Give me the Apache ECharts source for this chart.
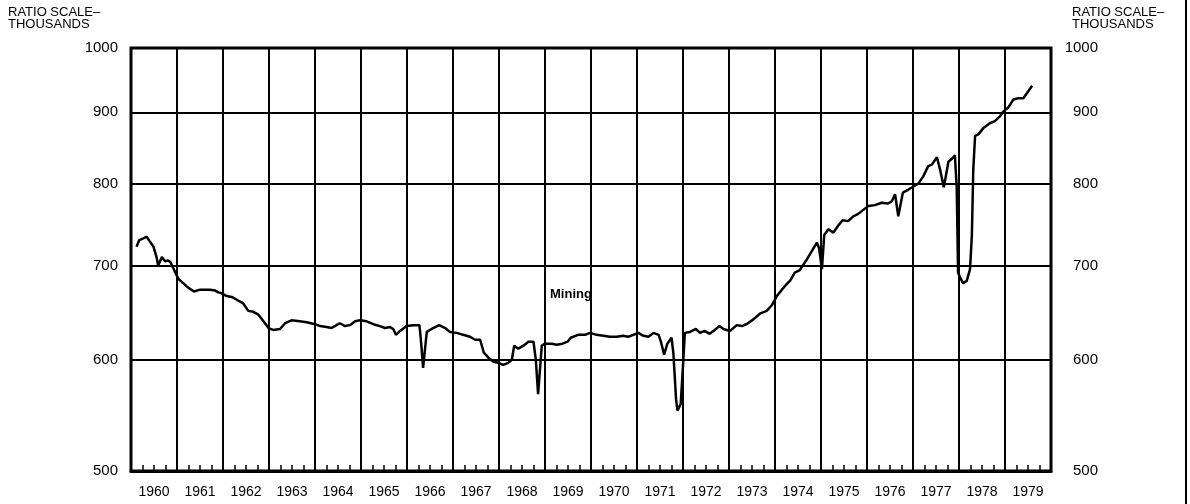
<!doctype html>
<html>
  <head>
    <meta charset="utf-8">
    <title>Mining</title>
    <script src="https://cdn.jsdelivr.net/npm/echarts@6/dist/echarts.min.js"></script>
    <style>
      html, body { margin: 0; padding: 0; background: #fff; }
      #main { width: 1190px; height: 504px; }
    </style>
  </head>
  <body>
    <div id="main"></div>
    <script>
      // years shown under the axis
      var years = ['1960','1961','1962','1963','1964','1965','1966','1967','1968','1969',
                   '1970','1971','1972','1973','1974','1975','1976','1977','1978','1979'];
      // ratio scale gridlines (thousands)
      var yTicks = [500, 600, 700, 800, 900, 1000];

      // mining employment (decimal year / thousands)
      var t = [
        1960.12,1960.18,1960.27,1960.34,1960.40,1960.49,1960.56,1960.59,1960.67,1960.74,1960.81,1960.86,1960.92,
        1961.03,1961.14,1961.25,1961.37,1961.50,1961.72,1961.83,1961.90,1961.97,
        1962.08,1962.19,1962.30,1962.44,1962.55,1962.66,1962.77,1962.88,1962.99,
        1963.09,1963.24,1963.35,1963.49,1963.67,1963.82,
        1964.00,1964.11,1964.25,1964.36,1964.43,1964.54,1964.65,1964.76,1964.87,1964.98,
        1965.12,1965.27,1965.41,1965.52,1965.63,1965.70,1965.76,1965.85,1965.99,
        1966.14,1966.27,1966.30,1966.35,1966.43,1966.57,1966.70,1966.83,1966.93,
        1967.08,1967.22,1967.37,1967.48,1967.59,1967.67,1967.77,1967.88,1967.99,
        1968.09,1968.20,1968.28,1968.33,1968.42,1968.53,1968.64,1968.75,1968.80,1968.85,1968.93,
        1969.00,1969.15,1969.25,1969.38,1969.49,1969.56,1969.72,1969.87,1969.98,
        1970.12,1970.27,1970.41,1970.56,1970.70,1970.81,1970.92,
        1971.03,1971.14,1971.25,1971.36,1971.47,1971.52,1971.59,1971.66,1971.75,1971.79,1971.85,1971.88,1971.95,
        1972.00,1972.04,1972.15,1972.28,1972.37,1972.47,1972.58,1972.69,1972.79,1972.88,
        1973.02,1973.17,1973.28,1973.38,1973.53,1973.67,1973.82,1973.93,
        1974.04,1974.15,1974.25,1974.33,1974.43,1974.54,1974.69,1974.80,1974.91,1974.96,
        1975.02,1975.07,1975.16,1975.27,1975.38,1975.47,1975.59,1975.70,1975.81,1975.92,
        1976.03,1976.17,1976.32,1976.46,1976.54,1976.61,1976.68,1976.78,1976.90,
        1977.01,1977.12,1977.22,1977.33,1977.41,1977.52,1977.59,1977.67,1977.77,1977.88,1977.91,1977.95,1977.98,
        1978.04,1978.09,1978.17,1978.24,1978.28,1978.31,1978.35,1978.42,1978.53,1978.67,1978.78,1978.89,1978.96,
        1979.07,1979.18,1979.29,1979.40,1979.51,1979.59
      ];
      var mining = [
        722,730,732,734,729,722,709,700,710,705,706,704,697,
        685,680,675,671,673,673,672,670,669,
        666,665,662,658,650,649,646,639,632,
        630,631,637,640,639,638,
        636,634,633,632,634,637,634,635,639,640,
        639,636,634,632,633,631,625,629,634,
        635,635,621,592,628,632,635,632,628,
        627,625,623,620,620,607,602,598,597,
        595,597,600,614,611,614,618,618,600,567,614,
        616,616,615,616,618,622,625,625,627,
        625,624,623,623,624,623,625,
        627,624,623,627,625,618,605,616,622,607,562,552,558,
        594,627,628,631,627,629,626,630,634,631,
        629,635,634,636,641,647,650,656,
        666,673,679,683,692,695,707,717,727,720,
        696,736,743,739,748,754,753,759,762,767,
        772,773,776,775,778,787,759,789,793,
        797,801,810,824,826,836,819,796,830,836,839,797,692,
        685,680,683,696,736,819,866,868,877,884,887,894,901,
        907,919,921,921,932,940
      ];

      var series = [];
      for (var i = 0; i < t.length; i++) {
        series.push([t[i], mining[i]]);
      }

      function plain(v) {
        return String(Math.round(v));
      }

      var font = 'Liberation Sans';
      var myChart = echarts.init(document.getElementById('main'));
      myChart.setOption({
        backgroundColor: '#fff',
        animation: false,
        grid: {
          left: 131, right: 139, top: 48, bottom: 33,
          show: true, borderColor: '#000', borderWidth: 3,
          outerBoundsMode: 'none'
        },
        xAxis: [{
          type: 'value', min: 1960, max: 1980, interval: 1,
          axisLine: { show: true, lineStyle: { color: '#000', width: 3 } },
          axisTick: { show: false, inside: true },
          minorTick: { show: true, splitNumber: 4, length: 6, lineStyle: { color: '#000', width: 1.5 } },
          splitLine: { show: true, lineStyle: { color: '#000', width: 2 } },
          axisLabel: { show: false }
        }, {
          type: 'category', data: years, position: 'bottom',
          axisLine: { show: false }, axisTick: { show: false },
          axisLabel: { margin: 14, color: '#000', fontFamily: font, fontSize: 14 },
          splitLine: { show: false }
        }],
        yAxis: [{
          type: 'log', logBase: 10, min: 500, max: 1000,
          axisLine: { show: false },
          axisTick: { show: false, customValues: yTicks },
          splitLine: { show: true, lineStyle: { color: '#000', width: 2 } },
          axisLabel: { customValues: yTicks, formatter: plain, margin: 13, color: '#000', fontFamily: font, fontSize: 15 }
        }, {
          type: 'log', logBase: 10, min: 500, max: 1000, position: 'right',
          axisLine: { show: false },
          axisTick: { show: false, customValues: yTicks },
          splitLine: { show: false },
          axisLabel: { customValues: yTicks, formatter: plain, margin: 47, align: 'right', color: '#000', fontFamily: font, fontSize: 15 }
        }],
        series: [{
          name: 'Mining', type: 'line', xAxisIndex: 0, yAxisIndex: 0,
          data: series, showSymbol: false, smooth: false,
          lineStyle: { color: '#000', width: 2.5 }
        }],
        graphic: [
          { type: 'text', left: 8, top: 6,
            style: { text: 'RATIO SCALE–\nTHOUSANDS', font: '13px "Liberation Sans"', lineHeight: 12, fill: '#000' } },
          { type: 'text', left: 1072, top: 6,
            style: { text: 'RATIO SCALE–\nTHOUSANDS', font: '13px "Liberation Sans"', lineHeight: 12, fill: '#000' } },
          { type: 'text', left: 550, top: 288,
            style: { text: 'Mining', font: 'bold 13px "Liberation Sans"', fill: '#000' } },
          { type: 'line', shape: { x1: 1186, y1: 0, x2: 1186, y2: 504 },
            style: { stroke: '#000', lineWidth: 2 } }
        ]
      });
    </script>
  </body>
</html>
